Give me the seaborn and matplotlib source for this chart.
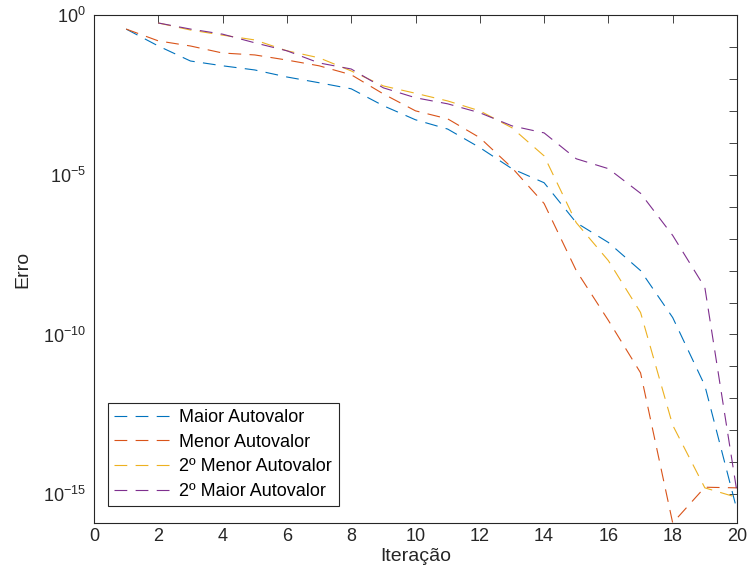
import seaborn as sns
import matplotlib.pyplot as plt
import matplotlib.ticker as mticker
import pandas as pd
import numpy as np

# log10 of the error
iter_a = list(range(1, 21))
iter_b = list(range(2, 21))
maior = [-0.44, -0.97, -1.44, -1.59, -1.72, -1.94, -2.12, -2.31, -2.84, -3.28,
         -3.57, -4.15, -4.81, -5.25, -6.5, -7.12, -8.0, -9.47, -11.6, -15.5]
menor = [-0.44, -0.81, -0.97, -1.19, -1.25, -1.41, -1.59, -1.87, -2.47, -3.0,
         -3.25, -3.84, -4.78, -5.9, -8.0, -9.56, -11.2, -15.9, -14.78, -14.8]
menor2 = [-0.25, -0.47, -0.63, -0.78, -1.12, -1.34, -1.75, -2.22, -2.45,
          -2.69, -3.0, -3.53, -4.41, -6.5, -7.69, -9.31, -12.84, -14.8, -15.1]
maior2 = [-0.25, -0.44, -0.6, -0.87, -1.12, -1.5, -1.69, -2.28, -2.59,
          -2.78, -3.06, -3.47, -3.69, -4.5, -4.81, -5.58, -6.9, -8.53, -14.94]
names = ['Maior Autovalor', 'Menor Autovalor', '2º Menor Autovalor', '2º Maior Autovalor']
colors = ['#0072BD', '#D95319', '#EDB120', '#7E2F8E']

frames = []
for name, xs, ys in zip(names, [iter_a, iter_a, iter_b, iter_b], [maior, menor, menor2, maior2]):
    frames.append(pd.DataFrame({'Iteração': xs, 'Erro': np.power(10.0, ys), 'serie': name}))
df = pd.concat(frames, ignore_index=True)

sns.set_style('white')
plt.rcParams['font.family'] = ['Liberation Sans', 'DejaVu Sans']
plt.rcParams['font.size'] = 13

fig = plt.figure(figsize=(7.48, 5.86), dpi=100)
ax = fig.add_axes([94/748, 1 - 523/586, (737-94)/748, (523-15)/586])

lw = 0.8
dash = (11.5, 7.5)
sns.lineplot(data=df, x='Iteração', y='Erro', hue='serie', hue_order=names,
             palette=colors, style='serie', style_order=names,
             dashes=[dash]*4, linewidth=lw, ax=ax)

ax.set_yscale('log')
ax.set_xlim(0, 20)
ax.set_ylim(10**-15.9, 1)
ax.set_xticks(range(0, 21, 2))
ax.yaxis.set_major_locator(mticker.FixedLocator([1e-15, 1e-10, 1e-5, 1e0]))
ax.yaxis.set_minor_locator(mticker.FixedLocator([10.0**k for k in range(-15, 1)]))
ax.yaxis.set_minor_formatter(mticker.NullFormatter())
ax.set_yticklabels(['$\\mathregular{10^{-15}}$', '$\\mathregular{10^{-10}}$',
                    '$\\mathregular{10^{-5}}$', '$\\mathregular{10^{0}}$'])

axc = '#262626'
for s in ax.spines.values():
    s.set_color(axc)
    s.set_linewidth(0.8)
ax.tick_params(which='both', direction='in', top=True, right=True, colors=axc,
               labelcolor=axc, labelsize=13, width=0.6)
ax.tick_params(which='major', length=6)
ax.tick_params(which='minor', length=6)
ax.tick_params(axis='y', pad=6)

ax.set_xlabel('Iteração', fontsize=14, color=axc, labelpad=2)
ax.set_ylabel('Erro', fontsize=14, color=axc, labelpad=8)

leg = ax.legend(loc='lower left', bbox_to_anchor=(0.022, 0.033), fontsize=13,
                frameon=True, fancybox=False, edgecolor=axc, framealpha=1,
                handlelength=3.4, handletextpad=0.2, borderpad=0.35,
                labelspacing=0.42, borderaxespad=0)
leg.get_frame().set_linewidth(0.8)
for t in leg.get_texts():
    t.set_color('black')

fig.savefig('out.png', dpi=100)
